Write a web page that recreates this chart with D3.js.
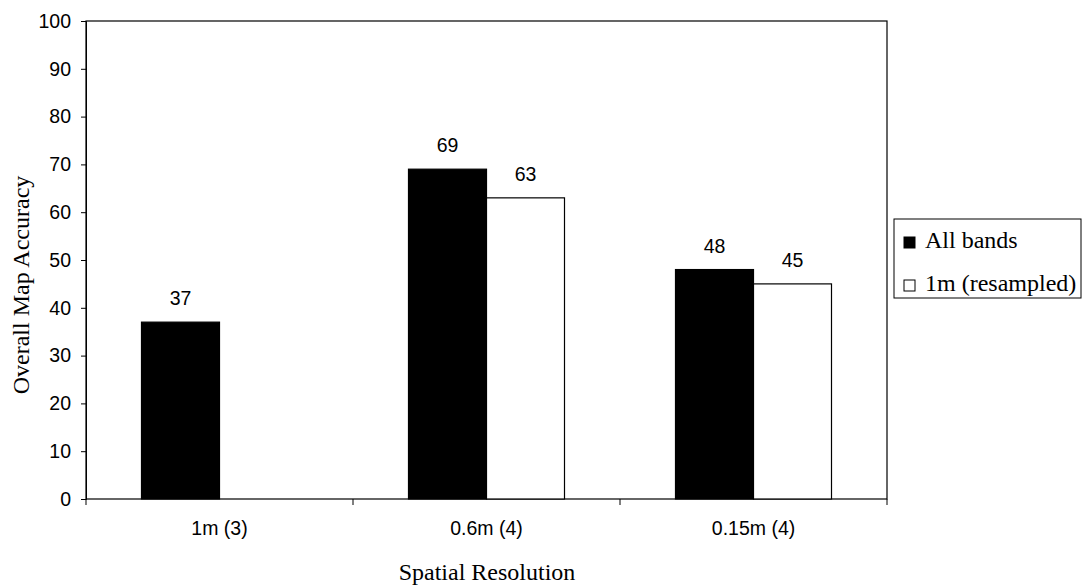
<!DOCTYPE html>
<html><head><meta charset="utf-8">
<script src="https://cdn.jsdelivr.net/npm/d3@7"></script>
<style>body{margin:0;background:#fff}</style>
</head><body>
<svg id="c" width="1089" height="588"></svg>
<script>
const categories = ["1m (3)", "0.6m (4)", "0.15m (4)"];
const seriesNames = ["All bands", "1m (resampled)"];
const allBands = [37, 69, 48];
const resampled = [null, 63, 45];
const yTicks = [0,10,20,30,40,50,60,70,80,90,100];
const xTitle = "Spatial Resolution";
const yTitle = "Overall Map Accuracy";

const SANS = "Liberation Sans, Arial, sans-serif";
const SERIF = "Liberation Serif, Times New Roman, serif";
const svg = d3.select("#c");
const L = 86, R = 887, T = 21, B = 499;
const x = d3.scaleBand().domain(categories).range([L, R]).paddingInner(0).paddingOuter(0);
const y = d3.scaleLinear().domain([0, 100]).range([B, T]);
const sub = d3.scaleBand().domain(seriesNames).range([0, 156]);
const off = (x.bandwidth() - 156) / 2;

// frame
svg.append("rect").attr("x", L).attr("y", T).attr("width", R - L).attr("height", B - T)
  .attr("fill", "none").attr("stroke", "#000").attr("stroke-width", 1.2);

// y axis
const ya = svg.append("g").attr("transform", `translate(${L},0)`)
  .call(d3.axisLeft(y).tickValues(yTicks).tickSize(5).tickPadding(10));
ya.select(".domain").attr("stroke", "#000");
ya.selectAll("text").attr("font-family", SANS).attr("font-size", 19.5).attr("fill", "#000");

// x axis
const xa = svg.append("g").attr("transform", `translate(0,${B})`)
  .call(d3.axisBottom(x).tickSize(0).tickPadding(22));
xa.select(".domain").remove();
xa.selectAll("text").attr("font-family", SANS).attr("font-size", 19.5).attr("fill", "#000");
// category boundary ticks
const bounds = categories.map(c => x(c)).concat([x(categories[categories.length-1]) + x.bandwidth()]);
svg.append("g").selectAll("line").data(bounds).join("line")
  .attr("x1", d => d).attr("x2", d => d).attr("y1", B).attr("y2", B + 6)
  .attr("stroke", "#000");

const data = [];
categories.forEach((c, i) => {
  data.push({c, s: seriesNames[0], v: allBands[i]});
  if (resampled[i] != null) data.push({c, s: seriesNames[1], v: resampled[i]});
});
const fills = {"All bands": "#000", "1m (resampled)": "#fff"};

svg.append("g").selectAll("rect").data(data).join("rect")
  .attr("x", d => x(d.c) + off + sub(d.s))
  .attr("y", d => y(d.v))
  .attr("width", sub.bandwidth())
  .attr("height", d => B - y(d.v))
  .attr("fill", d => fills[d.s])
  .attr("stroke", "#000").attr("stroke-width", 1.2);

svg.append("g").selectAll("text").data(data).join("text")
  .attr("x", d => x(d.c) + off + sub(d.s) + sub.bandwidth() / 2)
  .attr("y", d => y(d.v) - 17)
  .attr("text-anchor", "middle")
  .attr("font-family", SANS).attr("font-size", 19.5)
  .text(d => d.v);

// titles
svg.append("text").attr("x", 487).attr("y", 580).attr("text-anchor", "middle")
  .attr("font-family", SERIF).attr("font-size", 24).text(xTitle);
svg.append("text").attr("transform", `translate(29,285) rotate(-90)`).attr("text-anchor", "middle")
  .attr("font-family", SERIF).attr("font-size", 24).text(yTitle);

// legend
const lg = svg.append("g");
lg.append("rect").attr("x", 894).attr("y", 219).attr("width", 187).attr("height", 79)
  .attr("fill", "#fff").attr("stroke", "#000");
seriesNames.forEach((s, i) => {
  const base = 248 + i * 43;
  lg.append("rect").attr("x", 904).attr("y", base - 11).attr("width", 11).attr("height", 11)
    .attr("fill", fills[s]).attr("stroke", "#000");
  lg.append("text").attr("x", 925).attr("y", base)
    .attr("font-family", SERIF).attr("font-size", 24).text(s);
});
</script>
</body></html>
